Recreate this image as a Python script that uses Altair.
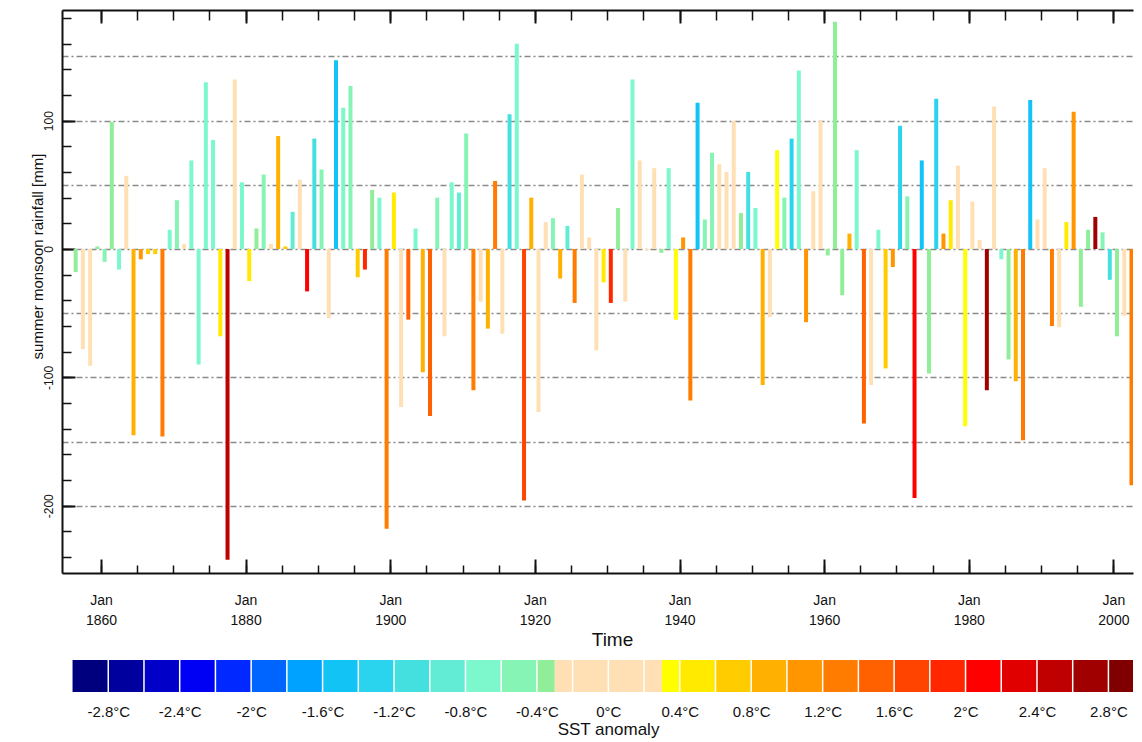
import altair as alt
import pandas as pd

# ---------------- data ----------------
years = list(range(1856, 2004))
rainfall = [
    -18, -78, -91, 2, -10, 99, -16, 57, -145, -8,      # 1856-1865
    -4, -4, -146, 15, 38, 4, 69, -90, 130, 85,          # 1866-1875
    -68, -242, 132, 52, -25, 16, 58, 4, 88, 2,          # 1876-1885
    29, 54, -33, 86, 62, -54, 147, 110, 127, -22,       # 1886-1895
    -16, 46, 40, -218, 44, -123, -55, 16, -96, -130,    # 1896-1905
    40, -68, 52, 44, 90, -110, -41, -62, 53, -66,       # 1906-1915
    105, 160, -196, 40, -127, 21, 24, -23, 18, -42,     # 1916-1925
    58, 9, -79, -26, -42, 32, -41, 132, 69, -1,         # 1926-1935
    63, -3, 63, -55, 9, -118, 114, 23, 75, 66,          # 1936-1945
    60, 100, 28, 60, 32, -106, -53, 77, 40, 86,         # 1946-1955
    139, -57, 45, 100, -5, 177, -36, 12, 77, -136,      # 1956-1965
    -106, 15, -93, -14, 96, 41, -194, 69, -97, 117,     # 1966-1975
    12, 38, 65, -138, 37, 7, -110, 111, -8, -86,        # 1976-1985
    -103, -149, 116, 23, 63, -60, -61, 21, 107, -45,    # 1986-1995
    15, 25, 13, -24, -68, -52, -184, 5                  # 1996-2003
]
sst = [
    -0.35, 0, 0, -0.35, -0.5, -0.35, -0.7, 0, 0.9, 1.1,
    0.7, 0.7, 1.3, -0.7, -0.5, 0, -0.7, -0.7, -0.7, -0.7,
    0.5, 2.5, 0, -0.7, 0.5, -0.35, -0.5, 0, 0.9, 0.7,
    -0.9, 0, 2.1, -1.1, -0.5, 0, -1.5, -0.7, -0.5, 0.7,
    1.9, -0.35, -0.7, 1.3, 0.5, 0, 1.5, -0.7, 0.9, 1.5,
    -0.5, 0, -0.7, -0.9, -0.5, 1.3, 0, 0.9, 1.3, 0,
    -1.1, -0.7, 1.7, 0.9, 0, 0, -0.5, 0.9, -0.9, 1.3,
    0, 0, 0, 0.5, 1.9, -0.35, 0, -0.7, 0, 0,
    0, -0.35, -0.7, 0.35, 1.1, 1.3, -1.5, -0.5, -0.5, 0,
    0, 0, -0.35, -1.1, -0.7, 0.9, 0, 0.35, -0.5, -1.3,
    -0.7, 1.1, 0, 0, -0.35, -0.35, -0.35, 0.9, -0.7, 1.5,
    0, -0.7, 0.7, 1.1, -1.3, -0.5, 2.1, -1.5, -0.35, -1.3,
    1.1, 0.5, 0, 0.35, 0, 0, 2.7, 0, -0.7, -0.35,
    0.9, 1.3, -1.5, 0, 0, 1.3, 0, 0.5, 1.1, -0.35,
    -0.35, 2.7, -0.5, -1.1, -0.35, 0, 1.3, 0.7
]

sst_breaks = [-2.8, -2.6, -2.4, -2.2, -2.0, -1.8, -1.6, -1.4, -1.2, -1.0, -0.8, -0.6,
              -0.4, -0.3, 0.3, 0.4, 0.6, 0.8, 1.0, 1.2, 1.4, 1.6, 1.8, 2.0, 2.2, 2.4,
              2.6, 2.8]
sst_colors = ["#00007f", "#00009f", "#0000c8", "#0000f5", "#0028ff", "#0064ff",
              "#00a2ff", "#12c4f6", "#2ad4ee", "#44e0e0", "#62ecd6", "#7cf8cc",
              "#86f4b4", "#90ee98", "#ffe0b4", "#ffff00", "#ffea00", "#ffcc00",
              "#ffb000", "#ff9600", "#ff7c00", "#ff6000", "#ff4400", "#ff2600",
              "#ff0000", "#e00000", "#c00000", "#a00000", "#800000"]

cb_edges = [-3.0, -2.8, -2.6, -2.4, -2.2, -2.0, -1.8, -1.6, -1.4, -1.2, -1.0, -0.8,
            -0.6, -0.4, -0.3, 0.3, 0.4, 0.6, 0.8, 1.0, 1.2, 1.4, 1.6, 1.8, 2.0, 2.2,
            2.4, 2.6, 2.8, 3.0]
cb_separators = [-2.8, -2.6, -2.4, -2.2, -2.0, -1.8, -1.6, -1.4, -1.2, -1.0, -0.8, -0.6,
                 -0.4, -0.2, 0.0, 0.2, 0.4, 0.6, 0.8, 1.0, 1.2, 1.4, 1.6, 1.8, 2.0,
                 2.2, 2.4, 2.6, 2.8]
cb_labels = [-2.8, -2.4, -2.0, -1.6, -1.2, -0.8, -0.4, 0.0, 0.4, 0.8, 1.2, 1.6, 2.0, 2.4, 2.8]

x_major = [1860, 1880, 1900, 1920, 1940, 1960, 1980, 2000]
x_minor = list(range(1860, 2001, 5))
y_grid = [-200, -150, -100, -50, 0, 50, 100, 150]
y_major = [-200, -100, 0, 100]
y_minor = list(range(-240, 181, 20))

FONT = "Liberation Sans"
INK = "#111111"
PLOT_W = 1071

df = pd.DataFrame({"year": years, "rain": rainfall, "sst": sst})

xs = alt.Scale(domain=[1854.61, 2002.71], nice=False, zero=False)
ys = alt.Scale(domain=[-252.4, 186.2], nice=False, zero=False)
cs = alt.Scale(type="threshold", domain=sst_breaks, range=sst_colors)

base = alt.Chart(df).transform_calculate(t="datum.year + 0.5")

bars = base.mark_rule(strokeWidth=4, clip=True).encode(
    x=alt.X("t:Q", scale=xs, axis=alt.Axis(
        orient="bottom", values=x_major,
        labelExpr="['Jan', '' + datum.value]",
        ticks=False, tickSize=0, grid=False,
        domain=True, domainColor=INK, domainWidth=2,
        labelFont=FONT, labelFontSize=14, labelColor=INK,
        labelBaseline="top", labelPadding=20, labelLineHeight=20,
        labelFlush=False, labelOverlap=False,
        title="Time", titleFont=FONT, titleFontSize=19, titleFontWeight="normal",
        titleColor=INK, titleX=550, titleY=57, titleBaseline="top", titleAlign="center")),
    y=alt.Y("rain:Q", scale=ys, axis=alt.Axis(
        orient="left", values=y_grid,
        grid=True, gridColor="#8a8a8a", gridDash=[6, 3, 2, 3], gridWidth=1.3,
        ticks=False, tickSize=0,
        domain=True, domainColor=INK, domainWidth=2,
        labelExpr="datum.value % 100 == 0 ? (datum.value < 0 ? '-' + abs(datum.value) : '' + datum.value) : ''",
        labelAngle=270, labelAlign="center", labelBaseline="bottom", labelPadding=7,
        labelFont=FONT, labelFontSize=12, labelColor=INK, labelOverlap=False,
        title="summer monsoon rainfall [mm]", titleAngle=270, titleX=-25, titleY=246,
        titleAlign="center", titleBaseline="middle", titleFont=FONT, titleFontSize=15,
        titleFontWeight="normal", titleColor=INK)),
    y2=alt.datum(0),
    color=alt.Color("sst:Q", scale=cs, legend=None),
)


def ghost(xaxis, yaxis):
    return base.mark_point(opacity=0, clip=True).encode(
        x=alt.X("t:Q", scale=xs, axis=xaxis),
        y=alt.Y("rain:Q", scale=ys, axis=yaxis),
    )


top_frame = ghost(
    alt.Axis(orient="top", domain=True, domainColor=INK, domainWidth=2, ticks=False,
             labels=False, grid=False, title=None),
    alt.Axis(orient="left", offset=-13, values=y_major, tickSize=13, tickWidth=2,
             tickColor=INK, domain=False, labels=False, grid=False, title=None))
top_major = ghost(
    alt.Axis(orient="top", offset=-13, values=x_major, tickSize=13, tickWidth=2,
             tickColor=INK, domain=False, labels=False, grid=False, title=None),
    alt.Axis(orient="left", offset=-9, values=y_minor, tickSize=9, tickWidth=1.5,
             tickColor=INK, domain=False, labels=False, grid=False, title=None))
top_minor = ghost(
    alt.Axis(orient="top", offset=-10, values=x_minor, tickSize=10, tickWidth=1.5,
             tickColor=INK, domain=False, labels=False, grid=False, title=None),
    None)
bot_major = ghost(
    alt.Axis(orient="bottom", offset=-14, values=x_major, tickSize=14, tickWidth=2,
             tickColor=INK, domain=False, labels=False, grid=False, title=None),
    None)
bot_minor = ghost(
    alt.Axis(orient="bottom", offset=-8, values=x_minor, tickSize=8, tickWidth=1.5,
             tickColor=INK, domain=False, labels=False, grid=False, title=None),
    None)

main = alt.layer(bars, top_frame, top_major, top_minor, bot_major, bot_minor).resolve_axis(
    x="independent", y="independent"
).properties(width=PLOT_W, height=563)

# ---------------- colour bar ----------------
cb_df = pd.DataFrame({"lo": cb_edges[:-1], "hi": cb_edges[1:]})
sep_df = pd.DataFrame({"v": cb_separators})
cbx = alt.Scale(domain=[-3.059, -3.059 + PLOT_W / 178.6], nice=False, zero=False, clamp=True)

rects = alt.Chart(cb_df).transform_calculate(mid="(datum.lo + datum.hi) / 2").mark_rect().encode(
    x=alt.X("lo:Q", scale=cbx, axis=alt.Axis(
        orient="bottom", values=cb_labels,
        labelExpr="(datum.value < 0 ? '-' : '') + format(abs(datum.value), '.1~f') + '°C'",
        ticks=False, tickSize=0, domain=False, grid=False,
        labelFont=FONT, labelFontSize=15, labelColor=INK, labelBaseline="top",
        labelPadding=12, labelFlush=False, labelOverlap=False,
        title="SST anomaly", titleFont=FONT, titleFontSize=17, titleFontWeight="normal",
        titleColor=INK, titleX=546, titleY=29, titleBaseline="top", titleAlign="center")),
    x2="hi:Q",
    color=alt.Color("mid:Q", scale=cs, legend=None),
)
seps = alt.Chart(sep_df).mark_rule(color="white", strokeWidth=1.5).encode(
    x=alt.X("v:Q", scale=cbx, axis=None)
)
colorbar = alt.layer(rects, seps).resolve_axis(x="independent").properties(
    width=PLOT_W, height=32)

chart = alt.vconcat(main, colorbar, spacing=87, bounds="flush").resolve_scale(
    x="independent", y="independent"
).properties(
    padding={"left": 21, "top": 0, "right": 0, "bottom": 0}
).configure(background="white").configure_view(stroke="transparent")

chart.save("out.html", embed_options={"renderer": "svg", "actions": False})
